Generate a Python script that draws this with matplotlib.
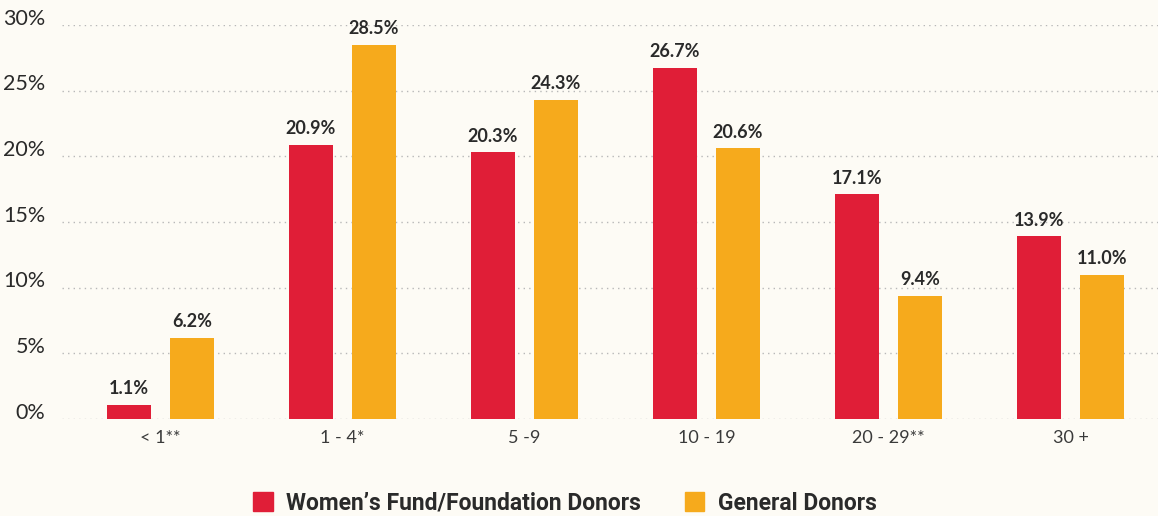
import matplotlib
matplotlib.use("Agg")
import matplotlib.pyplot as plt
import matplotlib.transforms as mtransforms
import numpy as np

# years of giving groups
categories = ["< 1**", "1 - 4*", "5 -9", "10 - 19", "20 - 29**", "30 +"]
womens_fund = [1.1, 20.9, 20.3, 26.7, 17.1, 13.9]
general = [6.2, 28.5, 24.3, 20.6, 9.4, 11.0]
series_names = ["Women\u2019s Fund/Foundation Donors", "General Donors"]

RED = "#e01e37"
ORANGE = "#f6aa1c"
BG = "#fdfbf5"
TXT = "#2a2a2a"

plt.rcParams['font.family'] = ['Lato', 'DejaVu Sans']

fig = plt.figure(figsize=(11.58, 5.16), dpi=100, facecolor=BG)
ax = fig.add_axes([62 / 1158, 1 - 419 / 516, 1 - 62 / 1158, (419 - 25) / 516])
ax.set_facecolor(BG)

x = np.arange(len(categories))
w = 0.242
off = 0.173
b1 = ax.bar(x - off, womens_fund, w, color=RED, zorder=3)
b2 = ax.bar(x + off, general, w, color=ORANGE, zorder=3)

for bars, vals in ((b1, womens_fund), (b2, general)):
    for b, v in zip(bars, vals):
        ax.text(b.get_x() + b.get_width() / 2, v + 0.6, f"{v:.1f}%",
                ha="center", va="bottom", fontsize=13, fontweight="bold",
                color=TXT)

ax.set_xlim(-0.541, 5.48)
ax.set_ylim(0, 30)
ax.set_yticks(range(0, 31, 5))
ax.set_yticklabels([f"{t}%" for t in range(0, 31, 5)], fontsize=15.5, color=TXT)
ax.set_xticks(x)
ax.set_xticklabels(categories, fontsize=13, color="#3a3a3a")
ax.tick_params(length=0)
ax.tick_params(axis="y", pad=12)
ax.tick_params(axis="x", pad=8)
# y labels sit a little above their gridline
shift = mtransforms.ScaledTranslation(0, 6 / 72, fig.dpi_scale_trans)
for lab in ax.get_yticklabels():
    lab.set_transform(lab.get_transform() + shift)
for s in ax.spines.values():
    s.set_visible(False)
ax.yaxis.grid(True, linestyle=(0, (1, 3)), color="#b8b8b8", linewidth=1, zorder=0)
ax.set_axisbelow(True)

# legend along the bottom
handles = [plt.Rectangle((0, 0), 1, 1, color=RED), plt.Rectangle((0, 0), 1, 1, color=ORANGE)]
fig.legend(handles, series_names, loc="center", bbox_to_anchor=(565 / 1158, 1 - 503 / 516),
           ncol=2, frameon=False, handlelength=0.85, handleheight=0.9, handletextpad=0.6,
           columnspacing=1.9, prop={"size": 16.5, "weight": "bold", "family": ["Roboto", "DejaVu Sans"]},
           labelcolor=TXT)

fig.savefig("out.png", dpi=100, facecolor=BG)
